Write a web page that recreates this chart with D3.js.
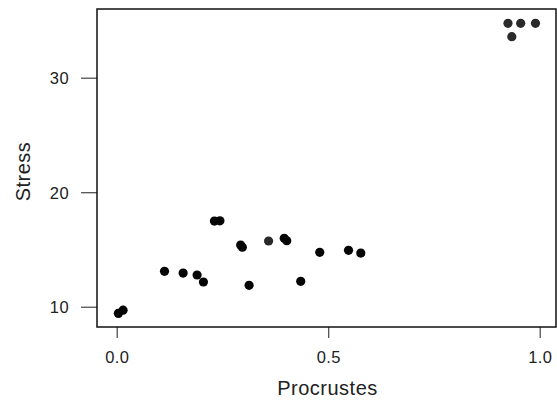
<!DOCTYPE html>
<html>
<head>
<meta charset="utf-8">
<script src="https://cdn.jsdelivr.net/npm/d3@7"></script>
<style>
  body { margin: 0; background: #fff; }
  text { font-family: "Liberation Sans", Arial, sans-serif; fill: #222; }
</style>
</head>
<body>
<div id="chart"></div>
<script>
// values
const procrustes = [0.004, 0.015, 0.113, 0.157, 0.19, 0.205, 0.231, 0.244, 0.293, 0.297,
    0.313, 0.359, 0.396, 0.402, 0.435, 0.48, 0.548, 0.577, 0.925, 0.934, 0.955, 0.99];
const stress = [9.42, 9.7, 13.09, 12.94, 12.77, 12.16, 17.48, 17.5, 15.39, 15.2,
    11.87, 15.74, 15.97, 15.76, 12.22, 14.75, 14.93, 14.69, 34.75, 33.58, 34.75, 34.75];
const xTicks = [0, 0.5, 1];
const yTicks = [10, 20, 30];

const width = 557;
const height = 408;
const margins = { top: 9, left: 97, right: 1, bottom: 81 };

const data = procrustes.map((p, i) => ({ x: p, y: stress[i] }));

const svg = d3.select("#chart")
    .append("svg")
        .attr("width", width)
        .attr("height", height);

const x = d3.scaleLinear()
    .domain([-0.0466, 1.0385])
    .range([margins.left, width - margins.right]);

const y = d3.scaleLinear()
    .domain([8.23, 36.0])
    .range([height - margins.bottom, margins.top]);

// R style axes: ticks pointing out, no extra axis line
const xAxis = svg.append("g")
    .attr("transform", `translate(0, ${height - margins.bottom})`)
    .call(d3.axisBottom(x).tickValues(xTicks).tickFormat(d3.format(".1f")).tickSize(11));

const yAxis = svg.append("g")
    .attr("transform", `translate(${margins.left}, 0)`)
    .call(d3.axisLeft(y).tickValues(yTicks).tickFormat(d3.format("d")).tickSize(16));

[xAxis, yAxis].forEach(ax => {
    ax.select(".domain").remove();
    ax.selectAll("line").attr("stroke", "#444").attr("stroke-width", 1.2);
    ax.selectAll("text")
        .style("font-family", "'Liberation Sans', Arial, sans-serif")
        .style("font-size", "16.5px")
        .style("letter-spacing", "0.4px")
        .attr("fill", "#222");
});

xAxis.selectAll("text").attr("y", 35.7).attr("dy", 0);
yAxis.selectAll("text").attr("x", -28).attr("dy", "0.36em");

// box round the plot region
svg.append("rect")
    .attr("x", margins.left)
    .attr("y", margins.top)
    .attr("width", width - margins.left - margins.right)
    .attr("height", height - margins.top - margins.bottom)
    .attr("fill", "none")
    .attr("stroke", "#111")
    .attr("stroke-width", 1.5);

svg.append("g")
    .selectAll("circle")
    .data(data)
    .join("circle")
        .attr("cx", d => x(d.x))
        .attr("cy", d => y(d.y))
        .attr("r", 4.6)
        .attr("fill", d => d.y > 30 || Math.abs(d.x - 0.359) < 0.001 ? "#2a2a2a" : "#050505");

// axis titles
svg.append("text")
    .attr("x", (margins.left + width - margins.right) / 2 + 1)
    .attr("y", 395)
    .attr("text-anchor", "middle")
    .style("font-size", "20px")
    .style("letter-spacing", "0.5px")
    .text("Procrustes");

svg.append("text")
    .attr("transform", "translate(29.5, 171.5) rotate(-90)")
    .attr("text-anchor", "middle")
    .style("font-size", "20px")
    .style("letter-spacing", "0.5px")
    .text("Stress");
</script>
</body>
</html>
